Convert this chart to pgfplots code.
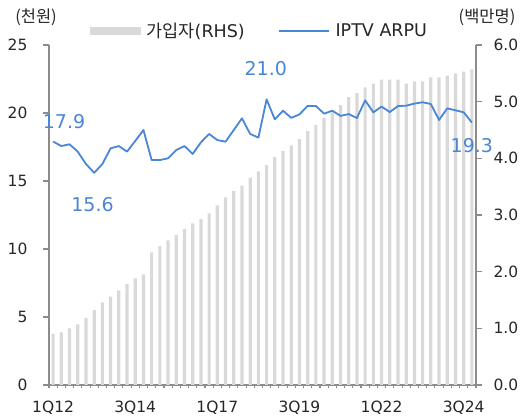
\documentclass[border=0pt]{standalone}
\usepackage{fontspec}
\setmainfont{DejaVu Sans}
\newfontfamily\kr{Noto Sans CJK KR}
\usepackage{pgfplots}
\pgfplotsset{compat=1.18}
\usetikzlibrary{calc}
\definecolor{barcol}{RGB}{217,217,217}
\definecolor{linecol}{RGB}{74,134,214}
\definecolor{axcol}{RGB}{140,140,140}
\definecolor{txtcol}{RGB}{38,38,38}

\pgfplotstableread{
x y
0 0.90
1 0.93
2 1.00
3 1.07
4 1.18
5 1.32
6 1.46
7 1.56
8 1.67
9 1.78
10 1.88
11 1.95
12 2.34
13 2.45
14 2.55
15 2.65
16 2.75
17 2.85
18 2.93
19 3.03
20 3.17
21 3.31
22 3.42
23 3.52
24 3.66
25 3.77
26 3.88
27 4.02
28 4.13
29 4.23
30 4.34
31 4.48
32 4.59
33 4.72
34 4.81
35 4.94
36 5.08
37 5.15
38 5.25
39 5.32
40 5.39
41 5.39
42 5.39
43 5.32
44 5.36
45 5.36
46 5.43
47 5.43
48 5.46
49 5.50
50 5.53
51 5.57
}\subs

\pgfplotstableread{
x y
0 17.9
1 17.57
2 17.70
3 17.16
4 16.25
5 15.6
6 16.25
7 17.40
8 17.57
9 17.16
10 17.94
11 18.75
12 16.54
13 16.54
14 16.67
15 17.28
16 17.57
17 16.99
18 17.84
19 18.46
20 18.01
21 17.89
22 18.75
23 19.61
24 18.46
25 18.19
26 21.0
27 19.53
28 20.17
29 19.64
30 19.90
31 20.52
32 20.52
33 19.95
34 20.17
35 19.79
36 19.92
37 19.63
38 20.93
39 20.05
40 20.47
41 20.07
42 20.51
43 20.54
44 20.69
45 20.79
46 20.66
47 19.49
48 20.34
49 20.20
50 20.05
51 19.3
}\arpu

\begin{document}
\begin{tikzpicture}
\pgfplotsset{
  base/.style={
    scale only axis, width=427pt, height=340pt,
    xmin=-0.5, xmax=51.5,
    at={(0,0)}, anchor=south west, clip=false,
    axis line style={-, draw=axcol, line width=1.3pt},
    tick style={draw=axcol, line width=1.1pt},
    tick align=outside, major tick length=6pt,
    /pgf/number format/assume math mode=true,
    ticklabel style={font=\fontsize{15.5}{18}\selectfont, text=txtcol},
  },
}
\begin{axis}[base, name=ax,
  ymin=0, ymax=6,
  axis y line*=right, axis x line*=bottom,
  ytick={0,1,...,6},
  yticklabel style={xshift=8pt, /pgf/number format/.cd, fixed, fixed zerofill, precision=1},
  xtick={0,10,...,50},
  xticklabels={1Q12,3Q14,1Q17,3Q19,1Q22,3Q24},
  xticklabel style={yshift=-6pt},
  major x tick style={draw=none},
  minor xtick={-0.5,0.5,...,51.5},
  minor tick length=3.5pt,
]
\addplot[ybar, bar width=3.2pt, bar shift=0pt, fill=barcol, draw=none] table[x=x,y=y] {\subs};
\end{axis}

\begin{axis}[base,
  ymin=0, ymax=25,
  axis y line*=left, axis x line=none,
  ytick={0,5,...,25},
  yticklabel style={xshift=-12pt},
  legend style={at={(0.493,1.041)}, anchor=center, draw=none, fill=none,
    legend columns=2, font=\fontsize{17.5}{20}\selectfont, text=txtcol,
    /tikz/every odd column/.append style={column sep=4pt},
    /tikz/every even column/.append style={column sep=31pt}},
  legend cell align=left,
]
\addlegendimage{legend image code/.code={\fill[barcol] (0pt,-3.5pt) rectangle (50pt,3.5pt);}}
\addlegendentry{{\kr 가입자}(RHS)}
\addplot[linecol, line width=1.8pt, line join=round,
  legend image code/.code={\draw[linecol, line width=1.8pt] (0pt,0pt) -- (50pt,0pt);}]
  table[x=x,y=y] {\arpu};
\addlegendentry{IPTV ARPU}

\node[text=linecol, font=\fontsize{19}{22}\selectfont] at (axis cs:1.33,19.34) {17.9};
\node[text=linecol, font=\fontsize{19}{22}\selectfont] at (axis cs:4.8,13.3) {15.6};
\node[text=linecol, font=\fontsize{19}{22}\selectfont] at (axis cs:25.9,23.27) {21.0};
\node[text=linecol, font=\fontsize{19}{22}\selectfont] at (axis cs:51.0,17.6) {19.3};

\node[text=txtcol, font=\kr\fontsize{16.5}{19}\selectfont] at (axis cs:-2.08,27.06) {(천원)};
\node[text=txtcol, font=\kr\fontsize{16.5}{19}\selectfont] at (axis cs:52.85,27.06) {(백만명)};
\end{axis}
\path[use as bounding box] ($(ax.south west)+(-49pt,-33pt)$) rectangle ($(ax.south west)+(474pt,385pt)$);
\end{tikzpicture}
\end{document}
